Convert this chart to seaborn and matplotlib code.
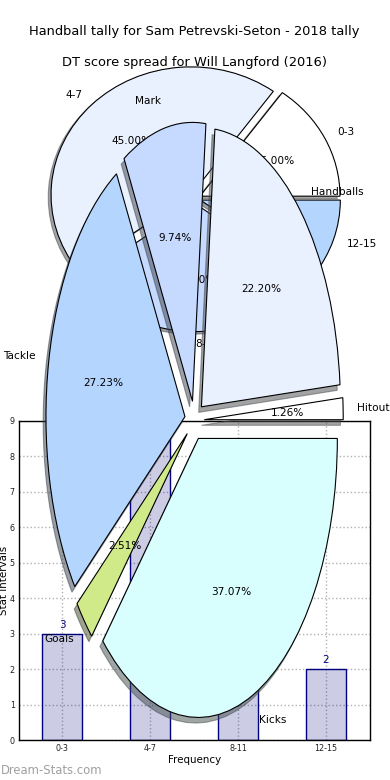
import matplotlib
matplotlib.use('Agg')
import matplotlib.pyplot as plt
import seaborn as sns
import pandas as pd

# ---- data ----
bar_categories = ['0-3', '4-7', '8-11', '12-15']
bar_values = [3, 9, 6, 2]
pie1_labels = ['0-3', '4-7', '8-11', '12-15']
pie1_values = [3, 9, 6, 2]
pie2_labels = ['Hitout', 'Handballs', 'Mark', 'Tackle', 'Goals', 'Kicks']
pie2_values = [1.26, 22.20, 9.74, 27.23, 2.51, 37.07]
title_top = 'Handball tally for Sam Petrevski-Seton - 2018 tally'
title_pie1 = 'DT score spread for Will Langford (2016)'
x_label = 'Frequency'
y_label = 'Stat Intervals'
y_ticks = [0, 1, 2, 3, 4, 5, 6, 7, 8, 9]
watermark = 'Dream-Stats.com'

sns.set_style('white')
plt.rcParams['font.family'] = ['DejaVu Sans']
plt.rcParams['text.color'] = 'black'
plt.rcParams['axes.labelcolor'] = 'black'
plt.rcParams['xtick.color'] = 'black'
plt.rcParams['ytick.color'] = 'black'

W, H = 390, 780
fig = plt.figure(figsize=(W / 100, H / 100), dpi=100)


def rect(left, top, width, height):
    return [left / W, 1 - (top + height) / H, width / W, height / H]


pie_colors = ['#FFFFFF', '#EAF1FE', '#C6D9FE', '#B4D5FE', '#D0EA8A', '#D9FEFE']
shadow = {'ox': -0.0144, 'oy': -0.0144}
wedgeprops = {'edgecolor': 'black', 'linewidth': 0.8}
textprops = {'fontsize': 7.6, 'color': 'black'}

# ---- pie 1 (behind) ----
ax1 = fig.add_axes(rect(20, 38.5, 350, 320))
ax1.pie(pie1_values, labels=pie1_labels, colors=pie_colors[:4],
        explode=[0.04] * len(pie1_values), autopct='%1.2f%%',
        shadow=shadow, wedgeprops=wedgeprops, textprops=textprops)
ax1.set_aspect('auto')
ax1.set_xlim(-1.25, 1.25)
ax1.set_ylim(-1.25, 1.25)
ax1.set_title(title_pie1, fontsize=9.4, y=0.915, pad=0, color='black')

# ---- bar chart ----
ax2 = fig.add_axes(rect(19, 421, 351, 319))
df = pd.DataFrame({'interval': bar_categories, 'count': bar_values})
sns.barplot(data=df, x='interval', y='count', ax=ax2, width=0.45,
            color='navy', linewidth=1, edgecolor='navy')
for p in ax2.patches:
    p.set_facecolor((0, 0, 0.5, 0.2))
    p.set_edgecolor('navy')
    p.set_linewidth(1)
ax2.bar_label(ax2.containers[0], padding=3, color='navy', fontsize=7.5)
ax2.set_xlim(-0.49, 3.5)
ax2.set_ylim(0, 9)
ax2.set_yticks(y_ticks)
ax2.grid(True, linestyle=':', color='#b0b0b0', linewidth=1)
ax2.set_axisbelow(True)
for s in ax2.spines.values():
    s.set_visible(True)
    s.set_color('black')
    s.set_linewidth(1)
ax2.tick_params(axis='both', direction='in', length=3, pad=3, labelsize=5.8,
                colors='black', labelcolor='#222222')
ax2.set_xlabel(x_label, fontsize=7.4, color='black')
ax2.set_ylabel(y_label, fontsize=7.4, color='black')
ax2.xaxis.set_label_coords(0.5, -0.047)
ax2.yaxis.set_label_coords(-0.028, 0.5)

# ---- pie 2 (front) ----
ax3 = fig.add_axes(rect(20.75, 71.75, 347.5, 697.5))
ax3.pie(pie2_values, labels=pie2_labels, colors=pie_colors,
        explode=[0.07] * len(pie2_values), autopct='%1.2f%%',
        shadow=shadow, wedgeprops=wedgeprops, textprops=textprops)
ax3.set_aspect('auto')
ax3.set_xlim(-1.25, 1.25)
ax3.set_ylim(-1.25, 1.25)
ax3.set_title(title_top, fontsize=9.4, y=1.0534, pad=0, color='black')

fig.text(0.003, 1 - 770 / H, watermark, color='#a0a0a0', fontsize=8.4,
         ha='left', va='center')

fig.savefig('out.png', dpi=100)
